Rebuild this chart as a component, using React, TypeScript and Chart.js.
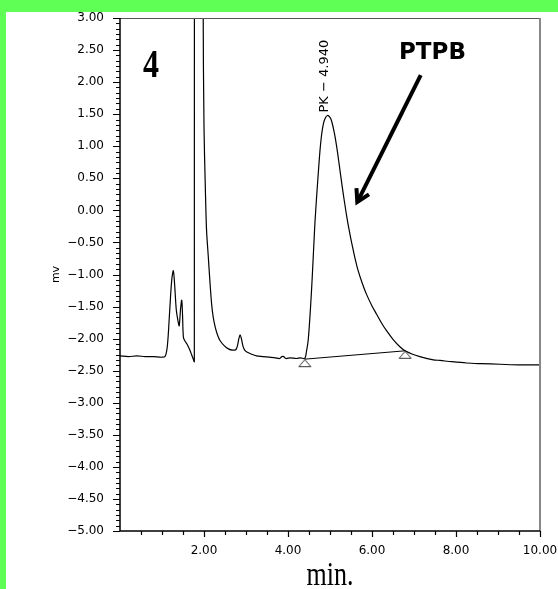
import React, { useEffect, useRef } from "react";
import { Chart, registerables } from "chart.js";

Chart.register(...registerables);

// ---- data (minutes, mV) ----
const retentionTime = [
  0.0, 0.2, 0.4, 0.6, 0.8, 1.0, 1.08, 1.13, 1.18, 1.23, 1.27, 1.3, 1.34, 1.38, 1.41, 1.44, 1.47, 1.49,
  1.51, 1.55, 1.59, 1.63, 1.67, 1.71, 1.75, 1.77, 1.875, 1.98, 2.0, 2.03, 2.06, 2.1, 2.14, 2.18, 2.22,
  2.27, 2.32, 2.38, 2.48, 2.58, 2.68, 2.76, 2.8, 2.83, 2.86, 2.89, 2.93, 2.97, 3.02, 3.12, 3.25, 3.4,
  3.55, 3.7, 3.8, 3.85, 3.9, 3.95, 4.05, 4.2, 4.3, 4.4, 4.44, 4.48, 4.52, 4.56, 4.6, 4.64, 4.68, 4.72,
  4.76, 4.8, 4.84, 4.88, 4.94, 5.0, 5.04, 5.1, 5.16, 5.22, 5.28, 5.34, 5.4, 5.46, 5.52, 5.6, 5.67, 5.77,
  5.87, 6.0, 6.11, 6.23, 6.35, 6.5, 6.67, 6.79, 6.95, 7.14, 7.46, 7.62, 7.9, 8.25, 8.6, 9.05, 9.5, 10.0,
];
const signalMv = [
  -2.27, -2.28, -2.27, -2.28, -2.28, -2.29, -2.27, -2.1, -1.6, -1.1, -0.94, -1.15, -1.55, -1.72, -1.8,
  -1.55, -1.4, -1.65, -1.98, -2.04, -2.08, -2.13, -2.19, -2.26, -2.33, -2.36, 400, 3.2, 1.3, 0.4, -0.3,
  -0.7, -1.1, -1.45, -1.67, -1.83, -1.94, -2.03, -2.11, -2.16, -2.18, -2.17, -2.1, -2.0, -1.94, -2.0,
  -2.12, -2.18, -2.21, -2.24, -2.27, -2.28, -2.29, -2.3, -2.31, -2.28, -2.28, -2.31, -2.3, -2.31, -2.3,
  -2.31, -2.2, -2.03, -1.68, -1.25, -0.74, -0.21, 0.2, 0.57, 0.92, 1.18, 1.34, 1.43, 1.48, 1.45, 1.39,
  1.22, 0.99, 0.71, 0.42, 0.15, -0.1, -0.32, -0.52, -0.76, -0.94, -1.14, -1.31, -1.49, -1.62, -1.76,
  -1.88, -2.01, -2.13, -2.19, -2.24, -2.28, -2.33, -2.34, -2.36, -2.38, -2.39, -2.4, -2.41, -2.41,
];
// integration baseline drawn under the PTPB peak
const integrationTime = [4.4, 6.79];
const integrationMv = [-2.32, -2.19];

// ---- axes ----
const xRange = [0, 10];
const yRange = [-5, 3];
const xLabelStep = 2;
const xMinorStep = 0.5;
const yLabelStep = 0.5;
const yMinorPerLabel = 6;

// ---- annotations ----
const peakName = "PK \u2212 4.940";
const peakApex = [4.94, 1.48];
const compoundName = "PTPB";
const compoundBaseline = [7.44, 2.36];
const arrowTail = [7.16, 2.11];
const arrowTip = [5.65, 0.13];
const panelName = "4";
const panelBaseline = [0.74, 2.08];
const xTitle = "min.";
const yTitle = "mv";

const fmt = (v: number) => {
  const s = Math.abs(v) < 1e-9 ? "0.00" : v.toFixed(2);
  return s.replace("-", "\u2212");
};

export default function App() {
  const ref = useRef<HTMLCanvasElement>(null);

  useEffect(() => {
    const canvas = ref.current!;
    const tri = document.createElement("canvas");
    tri.width = 14;
    tri.height = 18;
    const tc = tri.getContext("2d")!;
    tc.strokeStyle = "#333";
    tc.lineWidth = 1;
    tc.beginPath();
    tc.moveTo(7, 9.5);
    tc.lineTo(1, 16.5);
    tc.lineTo(13, 16.5);
    tc.closePath();
    tc.stroke();

    const annot = {
      id: "annot",
      afterDraw(chart: any) {
        const { ctx, chartArea: a } = chart;
        const x = chart.scales.x;
        const y = chart.scales.y;
        ctx.save();
        // frame
        ctx.strokeStyle = "#555";
        ctx.lineWidth = 1;
        ctx.beginPath();
        ctx.moveTo(a.left, a.top + 0.5);
        ctx.lineTo(a.right, a.top + 0.5);
        ctx.stroke();
        ctx.strokeStyle = "#888";
        ctx.lineWidth = 2;
        ctx.beginPath();
        ctx.moveTo(a.right, a.top);
        ctx.lineTo(a.right, a.bottom);
        ctx.stroke();
        ctx.strokeStyle = "#000";
        ctx.lineWidth = 1.5;
        ctx.beginPath();
        ctx.moveTo(a.left, a.top);
        ctx.lineTo(a.left, a.bottom);
        ctx.lineTo(a.right, a.bottom);
        ctx.stroke();
        // y ticks
        ctx.lineWidth = 1.2;
        const nY = Math.round((yRange[1] - yRange[0]) / yLabelStep) * yMinorPerLabel;
        ctx.beginPath();
        for (let i = 0; i <= nY; i++) {
          const v = yRange[0] + (i * yLabelStep) / yMinorPerLabel;
          const py = Math.round(y.getPixelForValue(v)) + 0.5;
          const len = i % yMinorPerLabel === 0 ? 7 : 4;
          ctx.moveTo(a.left - len, py);
          ctx.lineTo(a.left, py);
        }
        ctx.stroke();
        // x ticks
        const nX = Math.round((xRange[1] - xRange[0]) / xMinorStep);
        const per = Math.round(xLabelStep / xMinorStep);
        ctx.beginPath();
        for (let i = 1; i <= nX; i++) {
          const v = xRange[0] + i * xMinorStep;
          const px = Math.round(x.getPixelForValue(v)) + 0.5;
          const len = i % per === 0 ? 6 : 4;
          ctx.moveTo(px, a.bottom);
          ctx.lineTo(px, a.bottom + len);
        }
        ctx.stroke();

        ctx.fillStyle = "#000";
        // panel number
        ctx.save();
        ctx.translate(x.getPixelForValue(panelBaseline[0]), y.getPixelForValue(panelBaseline[1]));
        ctx.scale(1, 1.25);
        ctx.font = 'bold 32px "Liberation Serif"';
        ctx.textAlign = "center";
        ctx.textBaseline = "alphabetic";
        ctx.fillText(panelName, 0, 0);
        ctx.restore();
        // compound name
        ctx.font = 'bold 23px "DejaVu Sans"';
        ctx.textAlign = "center";
        ctx.textBaseline = "alphabetic";
        ctx.fillText(compoundName, x.getPixelForValue(compoundBaseline[0]), y.getPixelForValue(compoundBaseline[1]));
        // arrow
        const tx = x.getPixelForValue(arrowTail[0]);
        const ty = y.getPixelForValue(arrowTail[1]);
        const hx = x.getPixelForValue(arrowTip[0]);
        const hy = y.getPixelForValue(arrowTip[1]);
        const ang = Math.atan2(ty - hy, tx - hx);
        const bl = 14;
        const spread = (30 * Math.PI) / 180;
        ctx.strokeStyle = "#000";
        ctx.lineWidth = 4;
        ctx.lineCap = "butt";
        ctx.lineJoin = "miter";
        ctx.beginPath();
        ctx.moveTo(tx, ty);
        ctx.lineTo(hx, hy);
        ctx.stroke();
        ctx.beginPath();
        ctx.moveTo(hx + bl * Math.cos(ang - spread), hy + bl * Math.sin(ang - spread));
        ctx.lineTo(hx, hy);
        ctx.lineTo(hx + bl * Math.cos(ang + spread), hy + bl * Math.sin(ang + spread));
        ctx.stroke();
        // peak label
        ctx.save();
        ctx.translate(x.getPixelForValue(peakApex[0]) + 1, y.getPixelForValue(peakApex[1]) - 3);
        ctx.rotate(-Math.PI / 2);
        ctx.font = '13px "DejaVu Sans"';
        ctx.textAlign = "left";
        ctx.textBaseline = "alphabetic";
        ctx.fillText(peakName, 0, 0);
        ctx.restore();
        // x title
        ctx.save();
        ctx.translate((a.left + a.right) / 2, a.bottom + 54);
        ctx.scale(1, 1.3);
        ctx.font = '26px "Liberation Serif"';
        ctx.textAlign = "center";
        ctx.textBaseline = "alphabetic";
        ctx.fillText(xTitle, 0, 0);
        ctx.restore();
        ctx.restore();
      },
    };

    const chart = new Chart(canvas, {
      type: "scatter",
      data: {
        datasets: [
          {
            data: retentionTime.map((t, i) => ({ x: t, y: signalMv[i] })),
            showLine: true,
            borderColor: "#000",
            borderWidth: 1.2,
            pointRadius: 0,
            tension: 0.3,
          },
          {
            data: integrationTime.map((t, i) => ({ x: t, y: integrationMv[i] })),
            showLine: true,
            borderColor: "#000",
            borderWidth: 1,
            pointRadius: 3,
            pointStyle: tri as any,
          },
        ],
      },
      options: {
        animation: false,
        responsive: false,
        maintainAspectRatio: false,
        events: [],
        layout: { padding: { top: 18, right: 18, left: 0, bottom: 0 } },
        plugins: { legend: { display: false }, tooltip: { enabled: false } },
        scales: {
          x: {
            type: "linear",
            min: xRange[0],
            max: xRange[1],
            grid: { display: false },
            border: { display: false },
            ticks: {
              stepSize: xLabelStep,
              autoSkip: false,
              maxRotation: 0,
              padding: 5,
              color: "#000",
              font: { family: "DejaVu Sans", size: 12 },
              callback: (v: any) => (Number(v) === xRange[0] ? "" : fmt(Number(v))),
            },
            afterFit: (s: any) => {
              s.height = 58;
              s.paddingLeft = 0;
              s.paddingRight = 0;
            },
          },
          y: {
            type: "linear",
            min: yRange[0],
            max: yRange[1],
            grid: { display: false },
            border: { display: false },
            title: {
              display: true,
              text: yTitle,
              color: "#000",
              font: { family: "DejaVu Sans", size: 11 },
              padding: { top: 50, bottom: 0 },
            },
            ticks: {
              stepSize: yLabelStep,
              autoSkip: false,
              padding: 8,
              color: "#000",
              font: { family: "DejaVu Sans", size: 12 },
              callback: (v: any) => fmt(Number(v)),
            },
            afterFit: (s: any) => {
              s.width = 120;
              s.paddingTop = 0;
              s.paddingBottom = 0;
            },
          },
        },
      },
      plugins: [annot],
    } as any);

    return () => chart.destroy();
  }, []);

  return (
    <div
      style={{
        position: "fixed",
        left: 0,
        top: 0,
        width: 558,
        height: 589,
        background: "#60ff55",
        overflow: "hidden",
      }}
    >
      <div style={{ position: "absolute", left: 6, top: 12, right: 0, bottom: 0, background: "#fff" }} />
      <canvas ref={ref} width={558} height={589} style={{ position: "absolute", left: 0, top: 0, width: 558, height: 589 }} />
    </div>
  );
}
